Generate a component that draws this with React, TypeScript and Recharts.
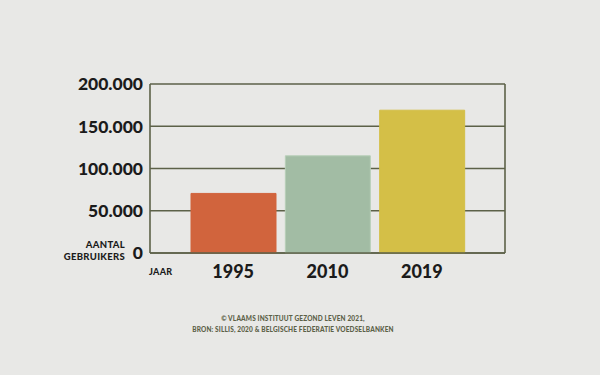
import { Bar, BarChart, CartesianGrid, Cell, XAxis, YAxis } from 'recharts'

const years = ['1995', '2010', '2019']
const users = [70500, 115000, 169000]
const barColors = ['#d1643d', '#a2bca4', '#d4bf47']
const barStrokes = ['#d1643d', '#b7cfb8', '#d4bf47']
const yTicks = [0, 50000, 100000, 150000, 200000]
const sourceLines = ['© VLAAMS INSTITUUT GEZOND LEVEN 2021,', 'BRON: SILLIS, 2020 & BELGISCHE FEDERATIE VOEDSELBANKEN']

const data = years.map((year, i) => ({ year, users: users[i] }))

const ink = '#1b1b1b'
const olive = '#5c6148'
const font = 'Lato, "Open Sans", sans-serif'

const formatThousands = (v: number) => String(v).replace(/\B(?=(\d{3})+(?!\d))/g, '.')

function YTick(props: any) {
  const { x, y, payload } = props
  return (
    <g>
      <text x={x} y={y} dy="0.36em" textAnchor="end" fill={ink} fontFamily={font} fontWeight={900} fontSize={17.5}>
        {formatThousands(payload.value)}
      </text>
      {payload.value === 0 && (
        <g fontFamily={font} fontWeight={900} fontSize={9.5} fill={ink} textAnchor="end" letterSpacing={0.3}>
          <text x={x - 18} y={y - 5}>AANTAL</text>
          <text x={x - 18} y={y + 7}>GEBRUIKERS</text>
        </g>
      )}
    </g>
  )
}

export default function App() {
  return (
    <div style={{ position: 'absolute', left: 0, top: 0, width: 600, height: 375, background: '#e8e8e6' }}>
      <BarChart width={600} height={375} data={data} margin={{ top: 84, right: 85, bottom: 92, left: 0 }}>
        <CartesianGrid yAxisId="left" horizontal vertical={false} stroke={olive} strokeWidth={1.6} />
        <XAxis
          dataKey="year"
          padding={{ left: 36, right: 36 }}
          axisLine={{ stroke: olive, strokeWidth: 1.6 }}
          tickLine={false}
          tickMargin={6}
          height={30}
          tick={{ fill: ink, fontFamily: font, fontWeight: 900, fontSize: 18 }}
        />
        <YAxis
          yAxisId="left"
          width={150}
          domain={[0, 200000]}
          ticks={yTicks}
          axisLine={{ stroke: olive, strokeWidth: 1.6 }}
          tickLine={false}
          tickMargin={1}
          tick={<YTick />}
        />
        <YAxis
          yAxisId="right"
          orientation="right"
          width={10}
          domain={[0, 200000]}
          ticks={yTicks}
          axisLine={{ stroke: olive, strokeWidth: 1.6 }}
          tickLine={false}
          tick={false}
        />
        <Bar dataKey="users" yAxisId="left" barSize={85} isAnimationActive={false}>
          {data.map((d, i) => (
            <Cell key={d.year} fill={barColors[i]} stroke={barStrokes[i]} strokeWidth={1} />
          ))}
        </Bar>
      </BarChart>
      <div
        style={{
          position: 'absolute',
          left: 149,
          top: 266,
          fontFamily: font,
          fontWeight: 900,
          fontSize: 9,
          color: ink,
          letterSpacing: 0.3,
        }}
      >
        JAAR
      </div>
      <div
        style={{
          position: 'absolute',
          left: 0,
          width: 586,
          top: 313,
          textAlign: 'center',
          fontFamily: font,
          fontWeight: 900,
          fontSize: 6.5,
          lineHeight: '11px',
          color: olive,
          letterSpacing: 0.15,
        }}
      >
        {sourceLines.map((line) => (
          <div key={line}>{line}</div>
        ))}
      </div>
    </div>
  )
}
